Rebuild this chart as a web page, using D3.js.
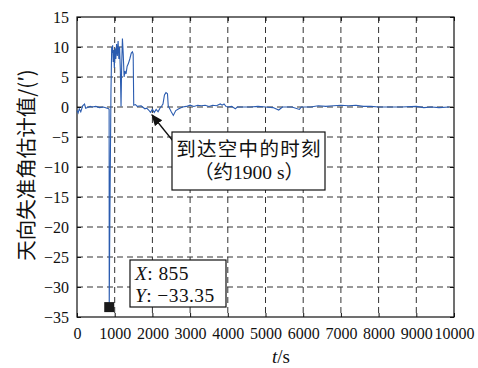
<!DOCTYPE html>
<html lang="zh">
<head>
<meta charset="utf-8">
<style type="text/css">
  body { margin: 0; background: #fff; }
  .tick text { font-family: "Liberation Serif", serif; font-size: 16px; fill: #111; }
  .grid line { stroke: #333; stroke-width: 1; stroke-dasharray: 6,4; }
</style>
</head>
<body>
<svg width="478" height="368"></svg>
<script src="https://d3js.org/d3.v7.min.js"></script>
<script type="text/javascript">
// time (s) and estimated misalignment angle (arcmin)
var timeS = [0, 30, 60, 100, 150, 200, 230, 280, 350, 400, 500, 600, 700, 800, 840, 852,
  855, 870, 900, 920, 930, 945, 960, 975, 990, 1010, 1030, 1050, 1070, 1090, 1110, 1130, 1150,
  1168, 1185, 1205, 1225, 1250, 1270, 1300, 1330, 1360, 1400, 1440, 1470, 1490, 1505,
  1550, 1600, 1700, 1800, 1850, 1900, 1950, 2000, 2050, 2100, 2150, 2200, 2250, 2280, 2320,
  2360, 2400, 2420, 2460, 2500, 2555, 2620, 2700, 2800, 2900, 3000, 3100, 3200, 3300, 3400,
  3500, 3600, 3700, 3800, 3850, 3900, 3950, 4000, 4100, 4200, 4250, 4400, 4600, 4800, 5000,
  5200, 5350, 5450, 5700, 5900, 5950, 6200, 6400, 6600, 6800, 7000, 7200, 7400, 7600, 7800,
  8000, 8300, 8600, 9000, 9200, 9400, 9600, 9880];
var angle = [-0.6, -1.0, -0.3, -0.8, 0.2, 0.5, -0.2, -0.1, 0.1, 0.0, 0.1, -0.1, 0.0, -0.2, -0.3, -0.4,
  -33.35, -20, 2, 10.0, 9.0, 10.3, 7.5, 9.5, 6.5, 9.8, 8.0, 10.5, 8.5, 11.0, 8.0, 10.0, 6.0,
  0.1, 7.0, 11.4, 9.0, 5.0, 6.0, 5.5, 6.8, 7.2, 8.0, 9.0, 9.2, 8.8, 0.3,
  0.4, 0.1, 0.2, -0.3, -0.2, -0.5, -0.9, -0.4, -0.9, -0.4, -0.8, -0.2, 0.2, 0.5, 2.0,
  2.4, 2.2, 0.2, -0.3, -0.8, -1.4, -0.6, -0.3, 0.0, 0.1, 0.3, 0.1, 0.3, 0.2, 0.3,
  0.1, 0.3, 0.2, 0.5, 0.3, 0.5, 0.1, 0.0, 0.1, -0.3, 0.0, 0.0, 0.0, 0.1, 0.0,
  -0.1, -0.5, 0.0, 0.0, -0.4, 0.0, 0.0, 0.2, 0.1, 0.2, 0.3, 0.2, 0.3, 0.1, 0.1,
  0.0, 0.0, 0.0, 0.1, -0.1, 0.0, -0.1, 0.0];

var xTicks = [0, 1000, 2000, 3000, 4000, 5000, 6000, 7000, 8000, 9000, 10000];
var yTicks = [15, 10, 5, 0, -5, -10, -15, -20, -25, -30, -35];
var tip = { t: 855, v: -33.35 };

var svg = d3.select("svg"),
    plotL = 77, plotR = 454, plotT = 17, plotB = 317;

var x = d3.scaleLinear().domain([0, 10000]).range([plotL, plotR]);
var y = d3.scaleLinear().domain([-35, 15]).range([plotB, plotT]);

// dashed grid
var grid = svg.append("g").attr("class", "grid");
grid.selectAll(".gx").data(xTicks.slice(1, -1)).enter().append("line")
  .attr("x1", function(d){ return x(d); }).attr("x2", function(d){ return x(d); })
  .attr("y1", plotT).attr("y2", plotB);
grid.selectAll(".gy").data(yTicks.slice(1, -1)).enter().append("line")
  .attr("y1", function(d){ return y(d); }).attr("y2", function(d){ return y(d); })
  .attr("x1", plotL).attr("x2", plotR);

// axes, ticks pointing inside
svg.append("g").attr("transform", "translate(0," + plotB + ")")
  .call(d3.axisBottom(x).tickValues(xTicks).tickSizeInner(-4).tickSizeOuter(0).tickPadding(11).tickFormat(d3.format("d")));
svg.append("g").attr("transform", "translate(" + plotL + ",0)")
  .call(d3.axisLeft(y).tickValues(yTicks).tickSizeInner(-4).tickSizeOuter(0).tickPadding(8));
svg.append("g").attr("transform", "translate(0," + plotT + ")")
  .call(d3.axisTop(x).tickValues(xTicks).tickSizeInner(-4).tickSizeOuter(0).tickFormat(""));
svg.append("g").attr("transform", "translate(" + plotR + ",0)")
  .call(d3.axisRight(y).tickValues(yTicks).tickSizeInner(-4).tickSizeOuter(0).tickFormat(""));
svg.selectAll(".domain").remove();
svg.selectAll(".tick line").attr("stroke", "#111");

svg.append("rect").attr("x", plotL).attr("y", plotT)
  .attr("width", plotR - plotL).attr("height", plotB - plotT)
  .attr("fill", "none").attr("stroke", "#111").attr("stroke-width", 1.2);

// data line
var pts = timeS.map(function(t, i){ return [t, angle[i]]; });
var line = d3.line().x(function(d){ return x(d[0]); }).y(function(d){ return y(d[1]); });
svg.append("path").datum(pts).attr("d", line)
  .attr("fill", "none").attr("stroke", "#2b5cb0").attr("stroke-width", 1.1);

// data tip
svg.append("rect").attr("x", x(tip.t) - 5).attr("y", y(tip.v) - 5)
  .attr("width", 10).attr("height", 10).attr("fill", "#1a1a1a");
svg.append("rect").attr("x", 130).attr("y", 260).attr("width", 96).attr("height", 47)
  .attr("fill", "#fff").attr("stroke", "#111").attr("stroke-width", 1.2);
var tipText = svg.append("g").style("font-family", "Liberation Serif, serif").style("font-size", "19.5px")
  .style("letter-spacing", "0.4px").attr("fill", "#111");
var l1 = tipText.append("text").attr("x", 135).attr("y", 280);
l1.append("tspan").style("font-style", "italic").text("X");
l1.append("tspan").text(": " + tip.t);
var l2 = tipText.append("text").attr("x", 135).attr("y", 302);
l2.append("tspan").style("font-style", "italic").text("Y");
l2.append("tspan").text(": \u2212" + Math.abs(tip.v).toFixed(2));

// annotation
svg.append("defs").append("marker").attr("id", "ah")
  .attr("viewBox", "0 0 10 10").attr("refX", 9).attr("refY", 5)
  .attr("markerWidth", 9).attr("markerHeight", 9).attr("orient", "auto")
  .append("path").attr("d", "M0,1 L10,5 L0,9 z").attr("fill", "#111");
svg.append("line").attr("x1", 173).attr("y1", 141).attr("x2", 152).attr("y2", 115)
  .attr("stroke", "#111").attr("stroke-width", 1.3).attr("marker-end", "url(#ah)");
svg.append("rect").attr("x", 172).attr("y", 132).attr("width", 153).attr("height", 58)
  .attr("fill", "#fff").attr("stroke", "#111").attr("stroke-width", 1.2);
var ann = svg.append("g").style("font-family", "Liberation Serif, Noto Sans CJK SC, serif")
  .style("font-size", "19.5px").attr("fill", "#111").attr("text-anchor", "middle");
ann.append("text").attr("x", 249).attr("y", 156).style("letter-spacing", "1.3px").text("到达空中的时刻");
ann.append("text").attr("x", 249).attr("y", 179).text("（约1900 s）");

// axis titles
svg.append("text").attr("transform", "translate(25,165) rotate(-90)")
  .attr("text-anchor", "middle").attr("dominant-baseline", "central")
  .style("font-family", "Noto Sans CJK SC, sans-serif").style("font-size", "20.5px").attr("fill", "#111")
  .text("天向失准角估计值/(′)");
var xl = svg.append("text").attr("x", 281).attr("y", 363).attr("text-anchor", "middle")
  .style("font-family", "Liberation Serif, serif").style("font-size", "19px").attr("fill", "#111");
xl.append("tspan").style("font-style", "italic").text("t");
xl.append("tspan").text("/s");
</script>
</body>
</html>
